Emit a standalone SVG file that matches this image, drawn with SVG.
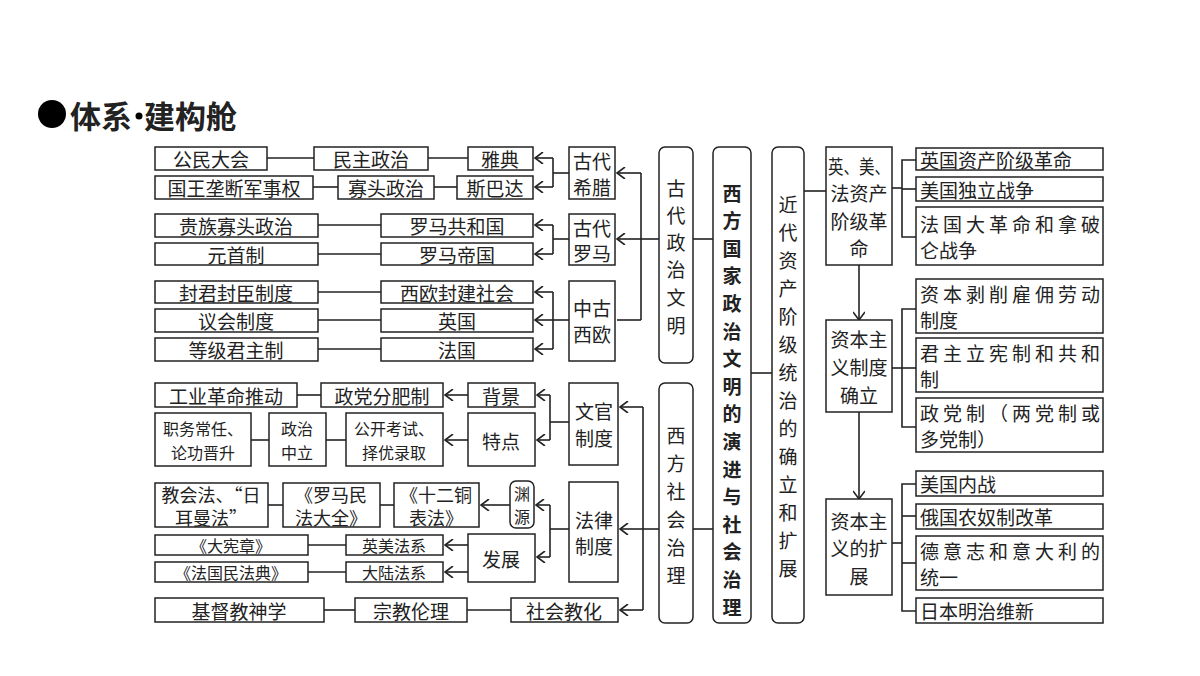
<svg xmlns="http://www.w3.org/2000/svg" width="1200" height="676" viewBox="0 0 1200 676">
<style>
rect{fill:#fff;stroke:#222;stroke-width:1.5}
.r{rx:6}
text{font-family:"Noto Sans CJK SC","Noto Sans",sans-serif;font-size:19px;fill:#222;text-anchor:middle;dominant-baseline:central}
.s{font-size:16px}
.m{font-size:18px}
.l{text-anchor:start}
.b{font-weight:bold}
#connectors line,#connectors polyline{stroke:#222;stroke-width:1.6;fill:none}
.a{marker-end:url(#ah)}
</style>
<defs><marker id="ah" viewBox="0 0 10 12" refX="9" refY="6" markerWidth="10" markerHeight="12" markerUnits="userSpaceOnUse" orient="auto"><path d="M1,0 L9,6 L1,12" fill="none" stroke="#222" stroke-width="1.6"/></marker></defs>
<rect x="0" y="0" width="1200" height="676" style="fill:#fff;stroke:none"/>
<circle cx="52" cy="114" r="14" fill="#000"/>
<text x="70" y="114" class="l b" style="font-size:31px">体系</text>
<circle cx="139" cy="116" r="3.5" fill="#000"/>
<text x="144" y="114" class="l b" style="font-size:31px">建构舱</text>
<g id="connectors">
<line x1="267" y1="158" x2="314" y2="158"/><line x1="428" y1="158" x2="468" y2="158"/>
<line x1="313" y1="187" x2="338" y2="187"/><line x1="434" y1="187" x2="457" y2="187"/>
<line x1="318" y1="225" x2="381" y2="225"/><line x1="318" y1="254" x2="381" y2="254"/>
<line x1="318" y1="292" x2="381" y2="292"/><line x1="318" y1="320" x2="381" y2="320"/><line x1="318" y1="349" x2="381" y2="349"/>
<line x1="569" y1="173" x2="553" y2="173"/><line x1="553" y1="158" x2="553" y2="187"/>
<line class="a" x1="553" y1="158" x2="535" y2="158"/><line class="a" x1="553" y1="187" x2="535" y2="187"/>
<line x1="569" y1="239" x2="553" y2="239"/><line x1="553" y1="225" x2="553" y2="254"/>
<line class="a" x1="553" y1="225" x2="535" y2="225"/><line class="a" x1="553" y1="254" x2="535" y2="254"/>
<line x1="569" y1="320" x2="553" y2="320"/><line x1="553" y1="292" x2="553" y2="349"/>
<line class="a" x1="553" y1="292" x2="535" y2="292"/><line class="a" x1="553" y1="320" x2="535" y2="320"/><line class="a" x1="553" y1="349" x2="535" y2="349"/>
<line x1="641" y1="173" x2="641" y2="320"/><line x1="659" y1="239" x2="641" y2="239"/><line x1="641" y1="320" x2="617" y2="320"/>
<line class="a" x1="641" y1="173" x2="617" y2="173"/><line class="a" x1="641" y1="239" x2="617" y2="239"/>
<line x1="297" y1="395" x2="321" y2="395"/><line class="a" x1="468" y1="395" x2="445" y2="395"/>
<line x1="251" y1="440" x2="269" y2="440"/><line x1="326" y1="440" x2="346" y2="440"/><line class="a" x1="468" y1="440" x2="445" y2="440"/>
<line x1="569" y1="422" x2="550" y2="422"/><line x1="550" y1="395" x2="550" y2="440"/>
<line class="a" x1="550" y1="395" x2="537" y2="395"/><line class="a" x1="550" y1="440" x2="537" y2="440"/>
<line x1="268" y1="505" x2="283" y2="505"/><line x1="380" y1="505" x2="394" y2="505"/><line class="a" x1="510" y1="505" x2="481" y2="505"/>
<line x1="308" y1="545" x2="346" y2="545"/><line x1="308" y1="572" x2="346" y2="572"/>
<line class="a" x1="468" y1="545" x2="445" y2="545"/><line class="a" x1="468" y1="572" x2="445" y2="572"/>
<line x1="569" y1="529" x2="550" y2="529"/><line x1="550" y1="505" x2="550" y2="557"/>
<line class="a" x1="550" y1="505" x2="536" y2="505"/><line class="a" x1="550" y1="557" x2="537" y2="557"/>
<line x1="324" y1="610" x2="355" y2="610"/><line x1="467" y1="610" x2="511" y2="610"/>
<line x1="643" y1="407" x2="643" y2="610"/><line x1="659" y1="529" x2="643" y2="529"/>
<line class="a" x1="643" y1="407" x2="620" y2="407"/><line class="a" x1="643" y1="529" x2="620" y2="529"/><line class="a" x1="643" y1="610" x2="620" y2="610"/>
<line x1="693" y1="239" x2="713" y2="239"/><line x1="693" y1="529" x2="713" y2="529"/>
<line x1="751" y1="373" x2="772" y2="373"/><line x1="804" y1="191" x2="826" y2="191"/>
<line class="a" x1="859" y1="265" x2="859" y2="320"/><line class="a" x1="859" y1="412" x2="859" y2="499"/>
<line x1="892" y1="188" x2="902" y2="188"/><polyline points="916,160 902,160 902,237 916,237"/><line x1="902" y1="189" x2="916" y2="189"/>
<line x1="892" y1="368" x2="916" y2="368"/><polyline points="916,309 902,309 902,427 916,427"/>
<line x1="892" y1="543" x2="902" y2="543"/><polyline points="916,484 902,484 902,611 916,611"/><line x1="902" y1="516" x2="916" y2="516"/><line x1="902" y1="563" x2="916" y2="563"/>
</g>
<g id="n1"><rect x="155" y="147" width="112" height="23"/><text x="211" y="158.5">公民大会</text></g>
<g id="n2"><rect x="314" y="147" width="114" height="23"/><text x="371" y="158.5">民主政治</text></g>
<g id="n3"><rect x="468" y="147" width="65" height="23"/><text x="500" y="158.5">雅典</text></g>
<g id="n4"><rect x="155" y="176" width="158" height="23"/><text x="234" y="187.5">国王垄断军事权</text></g>
<g id="n5"><rect x="338" y="176" width="96" height="23"/><text x="386" y="187.5">寡头政治</text></g>
<g id="n6"><rect x="457" y="176" width="76" height="23"/><text x="495" y="187.5">斯巴达</text></g>
<g id="n7"><rect x="155" y="214" width="163" height="23"/><text x="236" y="225.5">贵族寡头政治</text></g>
<g id="n8"><rect x="381" y="214" width="152" height="23"/><text x="457" y="225.5">罗马共和国</text></g>
<g id="n9"><rect x="155" y="243" width="163" height="22"/><text x="236" y="254">元首制</text></g>
<g id="n10"><rect x="381" y="243" width="152" height="22"/><text x="457" y="254">罗马帝国</text></g>
<g id="n11"><rect x="155" y="281" width="163" height="22"/><text x="236" y="292">封君封臣制度</text></g>
<g id="n12"><rect x="381" y="281" width="152" height="22"/><text x="457" y="292">西欧封建社会</text></g>
<g id="n13"><rect x="155" y="309" width="163" height="23"/><text x="236" y="320.5">议会制度</text></g>
<g id="n14"><rect x="381" y="309" width="152" height="23"/><text x="457" y="320.5">英国</text></g>
<g id="n15"><rect x="155" y="338" width="163" height="23"/><text x="236" y="349.5">等级君主制</text></g>
<g id="n16"><rect x="381" y="338" width="152" height="23"/><text x="457" y="349.5">法国</text></g>
<g id="n17"><rect x="569" y="147" width="46" height="52"/><text x="592" y="160">古代</text><text x="592" y="186">希腊</text></g>
<g id="n18"><rect x="569" y="214" width="46" height="51"/><text x="592" y="227">古代</text><text x="592" y="252">罗马</text></g>
<g id="n19"><rect x="569" y="281" width="46" height="80"/><text x="592" y="307">中古</text><text x="592" y="333">西欧</text></g>
<g id="n20"><rect x="155" y="383" width="142" height="24"/><text x="226" y="395">工业革命推动</text></g>
<g id="n21"><rect x="321" y="383" width="122" height="24"/><text x="382" y="395">政党分肥制</text></g>
<g id="n22"><rect x="468" y="383" width="67" height="24"/><text x="501" y="395">背景</text></g>
<g id="n23"><rect x="155" y="413" width="96" height="53"/><text class="s" x="203" y="428">职务常任、</text><text class="s" x="203" y="452">论功晋升</text></g>
<g id="n24"><rect x="269" y="413" width="57" height="53"/><text class="s" x="297" y="428">政治</text><text class="s" x="297" y="452">中立</text></g>
<g id="n25"><rect x="346" y="413" width="97" height="53"/><text class="s" x="394" y="428">公开考试、</text><text class="s" x="394" y="452">择优录取</text></g>
<g id="n26"><rect x="468" y="413" width="67" height="53"/><text x="501" y="440">特点</text></g>
<g id="n27"><rect x="569" y="383" width="49" height="82"/><text x="594" y="410">文官</text><text x="594" y="437">制度</text></g>
<g id="n28"><rect x="155" y="483" width="113" height="44"/><text class="m" x="211" y="493.5">教会法、“日</text><text class="m" x="211" y="516.5">耳曼法”</text></g>
<g id="n29"><rect x="283" y="483" width="97" height="44"/><text class="m" x="331" y="493.5">《罗马民</text><text class="m" x="331" y="516.5">法大全》</text></g>
<g id="n30"><rect x="394" y="483" width="85" height="44"/><text class="m" x="436" y="493.5">《十二铜</text><text class="m" x="436" y="516.5">表法》</text></g>
<g id="n31"><rect class="r" x="510" y="481" width="24" height="47"/><text class="s" x="522" y="493">渊</text><text class="s" x="522" y="516">源</text></g>
<g id="n32"><rect x="155" y="535" width="153" height="20"/><text class="s" x="231" y="545">《大宪章》</text></g>
<g id="n33"><rect x="346" y="535" width="97" height="20"/><text class="s" x="394" y="545">英美法系</text></g>
<g id="n34"><rect x="155" y="562" width="153" height="20"/><text class="s" x="231" y="572">《法国民法典》</text></g>
<g id="n35"><rect x="346" y="562" width="97" height="20"/><text class="s" x="394" y="572">大陆法系</text></g>
<g id="n36"><rect x="468" y="534" width="67" height="48"/><text x="501" y="558">发展</text></g>
<g id="n37"><rect x="569" y="482" width="49" height="100"/><text x="594" y="519">法律</text><text x="594" y="545">制度</text></g>
<g id="n38"><rect x="155" y="598" width="169" height="24"/><text x="239" y="610">基督教神学</text></g>
<g id="n39"><rect x="355" y="598" width="112" height="24"/><text x="411" y="610">宗教伦理</text></g>
<g id="n40"><rect x="511" y="598" width="107" height="24"/><text x="564" y="610">社会教化</text></g>
<g id="n41"><rect class="r" x="659" y="147" width="34" height="216"/>
<text x="676" y="187">古</text><text x="676" y="214">代</text><text x="676" y="241">政</text><text x="676" y="268">治</text><text x="676" y="296">文</text><text x="676" y="324">明</text></g>
<g id="n42"><rect class="r" x="659" y="383" width="34" height="240"/>
<text x="676" y="434">西</text><text x="676" y="462">方</text><text x="676" y="490">社</text><text x="676" y="518">会</text><text x="676" y="546">治</text><text x="676" y="574">理</text></g>
<g id="n43"><rect class="r" x="713" y="147" width="38" height="476"/>
<text class="b" x="732" y="192">西</text><text class="b" x="732" y="219.6">方</text><text class="b" x="732" y="247.2">国</text><text class="b" x="732" y="274.8">家</text><text class="b" x="732" y="302.4">政</text><text class="b" x="732" y="330">治</text><text class="b" x="732" y="357.6">文</text><text class="b" x="732" y="385.2">明</text><text class="b" x="732" y="412.8">的</text><text class="b" x="732" y="440.4">演</text><text class="b" x="732" y="468">进</text><text class="b" x="732" y="495.6">与</text><text class="b" x="732" y="523.2">社</text><text class="b" x="732" y="550.8">会</text><text class="b" x="732" y="578.4">治</text><text class="b" x="732" y="606">理</text></g>
<g id="n44"><rect class="r" x="772" y="147" width="32" height="476"/>
<text x="788" y="203">近</text><text x="788" y="231">代</text><text x="788" y="259">资</text><text x="788" y="287">产</text><text x="788" y="315">阶</text><text x="788" y="343">级</text><text x="788" y="371">统</text><text x="788" y="399">治</text><text x="788" y="427">的</text><text x="788" y="455">确</text><text x="788" y="483">立</text><text x="788" y="511">和</text><text x="788" y="539">扩</text><text x="788" y="567">展</text></g>
<g id="n45"><rect x="826" y="147" width="66" height="118"/><text x="859" y="165" textLength="62" lengthAdjust="spacingAndGlyphs">英、美、</text><text x="859" y="192">法资产</text><text x="859" y="220">阶级革</text><text x="859" y="247">命</text></g>
<g id="n46"><rect x="826" y="320" width="66" height="92"/><text x="859" y="338">资本主</text><text x="859" y="366">义制度</text><text x="859" y="394">确立</text></g>
<g id="n47"><rect x="826" y="499" width="66" height="96"/><text x="859" y="520">资本主</text><text x="859" y="547">义的扩</text><text x="859" y="575">展</text></g>
<g id="n48"><rect x="916" y="148" width="187" height="22"/><text class="l" x="920" y="159">英国资产阶级革命</text></g>
<g id="n49"><rect x="916" y="177" width="187" height="24"/><text class="l" x="920" y="189">美国独立战争</text></g>
<g id="n50"><rect x="916" y="207" width="187" height="58"/><text class="l" x="920" y="223" textLength="180">法国大革命和拿破</text><text class="l" x="920" y="249">仑战争</text></g>
<g id="n51"><rect x="916" y="279" width="187" height="54"/><text class="l" x="920" y="293" textLength="180">资本剥削雇佣劳动</text><text class="l" x="920" y="319">制度</text></g>
<g id="n52"><rect x="916" y="338" width="187" height="54"/><text class="l" x="920" y="352" textLength="180">君主立宪制和共和</text><text class="l" x="920" y="378">制</text></g>
<g id="n53"><rect x="916" y="398" width="187" height="54"/><text class="l" x="920" y="412" textLength="180">政党制（两党制或</text><text class="l" x="920" y="438">多党制）</text></g>
<g id="n54"><rect x="916" y="471" width="187" height="25"/><text class="l" x="920" y="483.5">美国内战</text></g>
<g id="n55"><rect x="916" y="504" width="187" height="25"/><text class="l" x="920" y="516.5">俄国农奴制改革</text></g>
<g id="n56"><rect x="916" y="536" width="187" height="54"/><text class="l" x="920" y="550" textLength="180">德意志和意大利的</text><text class="l" x="920" y="576">统一</text></g>
<g id="n57"><rect x="916" y="598" width="187" height="25"/><text class="l" x="920" y="610.5">日本明治维新</text></g>
</svg>
